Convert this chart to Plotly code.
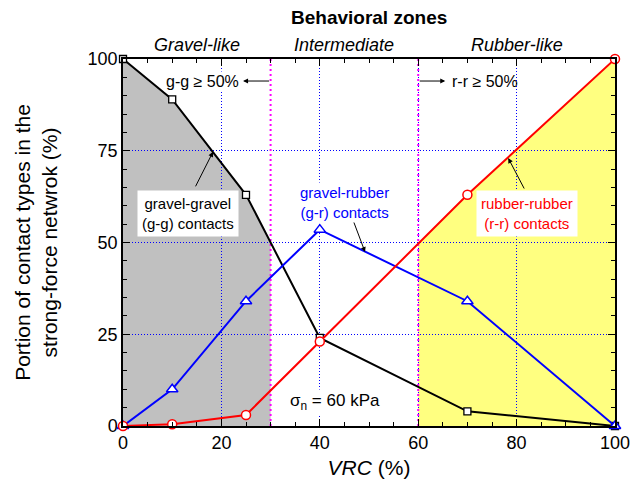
import numpy as np
import plotly.graph_objects as go

# ---- data ----
vrc = [0, 10, 25, 40, 70, 100]
gg = [100, 89, 63, 24, 4, 0]          # gravel-gravel contacts (%)
gr = [0, 10, 34, 53.5, 34, 0]         # gravel-rubber contacts (%)
rr = [0, 0.5, 3, 23, 63, 100]         # rubber-rubber contacts (%)
zone_bounds = [30, 60]
zone_names = ["Gravel-like", "Intermediate", "Rubber-like"]
x_ticks = [0, 20, 40, 60, 80, 100]
y_ticks = [0, 25, 50, 75, 100]

FONT = "Liberation Sans, Arial, sans-serif"

fig = go.Figure()

# ---- filled zones (shapes below grid) ----
b1, b2 = zone_bounds
gg_b1 = float(np.interp(b1, vrc, gg))
rr_b2 = float(np.interp(b2, vrc, rr))
gray_pts = [(vrc[0], 0)] + [(x, y) for x, y in zip(vrc, gg) if x <= b1] + [(b1, gg_b1), (b1, 0)]
yel_pts = [(b2, 0), (b2, rr_b2)] + [(x, y) for x, y in zip(vrc, rr) if x > b2] + [(vrc[-1], 0)]

def path(pts):
    return "M " + " L ".join(f"{x},{y}" for x, y in pts) + " Z"

fig.add_shape(type="path", path=path(gray_pts), xref="x", yref="y",
              fillcolor="#C0C0C0", line=dict(width=0), layer="below")
fig.add_shape(type="path", path=path(yel_pts), xref="x", yref="y",
              fillcolor="#FFFF80", line=dict(width=0), layer="below")
for b in zone_bounds:
    fig.add_shape(type="line", x0=b, x1=b, y0=0, y1=100, xref="x", yref="y",
                  line=dict(color="#FF00FF", width=2, dash="2px,3px"), layer="between")

# ---- series ----
fig.add_trace(go.Scatter(x=vrc, y=gg, mode="lines+markers", cliponaxis=False,
                         line=dict(color="black", width=2),
                         marker=dict(symbol="square", size=7, color="white",
                                     line=dict(color="black", width=1.3))))
fig.add_trace(go.Scatter(x=vrc, y=gr, mode="lines+markers", cliponaxis=False,
                         line=dict(color="blue", width=2),
                         marker=dict(symbol="triangle-up", size=10, color="white",
                                     line=dict(color="blue", width=1.5))))
fig.add_trace(go.Scatter(x=vrc, y=rr, mode="lines+markers", cliponaxis=False,
                         line=dict(color="red", width=2),
                         marker=dict(symbol="circle", size=9, color="white",
                                     line=dict(color="red", width=1.5))))

# ---- annotations ----
ann = []
ann.append(dict(x=0.5, y=1, xref="paper", yref="paper", yanchor="bottom", yshift=29,
                text="<b>Behavioral zones</b>", showarrow=False,
                font=dict(size=19, color="black", family=FONT)))
zl = [0] + zone_bounds + [100]
for i, nm in enumerate(zone_names):
    ann.append(dict(x=(zl[i] + zl[i + 1]) / 2, y=1, xref="x", yref="paper",
                    yanchor="bottom", yshift=2, text=f"<i>{nm}</i>", showarrow=False,
                    font=dict(size=18, color="black", family=FONT)))

# threshold labels and arrows
ann.append(dict(x=16.2, y=94, xref="x", yref="y", text="g-g \u2265 50%", showarrow=False,
                bgcolor="white", font=dict(size=16, color="black", family=FONT)))
ann.append(dict(x=24.4, y=94, ax=b1, ay=94, xref="x", yref="y", axref="x", ayref="y",
                text="", showarrow=True, arrowhead=2, arrowsize=1, arrowwidth=1, arrowcolor="black"))
ann.append(dict(x=73.5, y=94, xref="x", yref="y", text="r-r \u2265 50%", showarrow=False,
                font=dict(size=16, color="black", family=FONT)))
ann.append(dict(x=65.5, y=94, ax=b2, ay=94, xref="x", yref="y", axref="x", ayref="y",
                text="", showarrow=True, arrowhead=2, arrowsize=1, arrowwidth=1, arrowcolor="black"))

# series labels
ann.append(dict(x=18.3, y=74.7, ax=14.6, ay=64.9, xref="x", yref="y", axref="x", ayref="y",
                text="", showarrow=True, arrowhead=2, arrowsize=1, arrowwidth=1, arrowcolor="black"))
ann.append(dict(x=13.2, y=58, xref="x", yref="y", text="gravel-gravel<br>(g-g) contacts",
                showarrow=False, bgcolor="white", borderpad=4,
                font=dict(size=15, color="black", family=FONT)))
ann.append(dict(x=49.2, y=47.4, ax=46.5, ay=57, xref="x", yref="y", axref="x", ayref="y",
                text="", showarrow=True, arrowhead=2, arrowsize=1, arrowwidth=1, arrowcolor="black"))
ann.append(dict(x=45.1, y=61, xref="x", yref="y", text="gravel-rubber<br>(g-r) contacts",
                showarrow=False, bgcolor="white",
                font=dict(size=15, color="blue", family=FONT)))
ann.append(dict(x=78.3, y=73, ax=81.7, ay=64.3, xref="x", yref="y", axref="x", ayref="y",
                text="", showarrow=True, arrowhead=2, arrowsize=1, arrowwidth=1, arrowcolor="black"))
ann.append(dict(x=82.1, y=58, xref="x", yref="y", text="rubber-rubber<br>(r-r) contacts",
                showarrow=False, bgcolor="white", borderpad=4,
                font=dict(size=15, color="red", family=FONT)))
ann.append(dict(x=43.1, y=6.5, xref="x", yref="y", text="\u03c3<sub>n</sub> = 60 kPa",
                showarrow=False, bgcolor="white",
                font=dict(size=17, color="black", family=FONT)))

axis_common = dict(
    range=[0, 100], showline=True, linecolor="black", linewidth=1.5, mirror="allticks",
    ticks="inside", ticklen=7, tickwidth=1.2, tickcolor="black", automargin=False,
    showgrid=True, gridcolor="blue", gridwidth=1, griddash="1px,2px",
    zeroline=False, tickfont=dict(size=18, color="black", family=FONT),
    minor=dict(ticks="inside", ticklen=4, tickwidth=1, tickcolor="black", dtick=5, showgrid=False),
)

fig.update_layout(
    width=632, height=488,
    margin=dict(l=123, r=17, t=59, b=62),
    plot_bgcolor="rgba(0,0,0,0)", paper_bgcolor="white",
    showlegend=False,
    annotations=ann,
    xaxis=dict(**axis_common, tickvals=x_ticks,
               title=dict(text="<i>VRC</i> (%)", standoff=8,
                          font=dict(size=21, color="black", family=FONT))),
    yaxis=dict(**axis_common, tickvals=y_ticks,
               title=dict(text="Portion of contact types in the<br>strong-force netwrok (%)",
                          standoff=24, font=dict(size=21, color="black", family=FONT))),
)

fig.write_html("out.html")
